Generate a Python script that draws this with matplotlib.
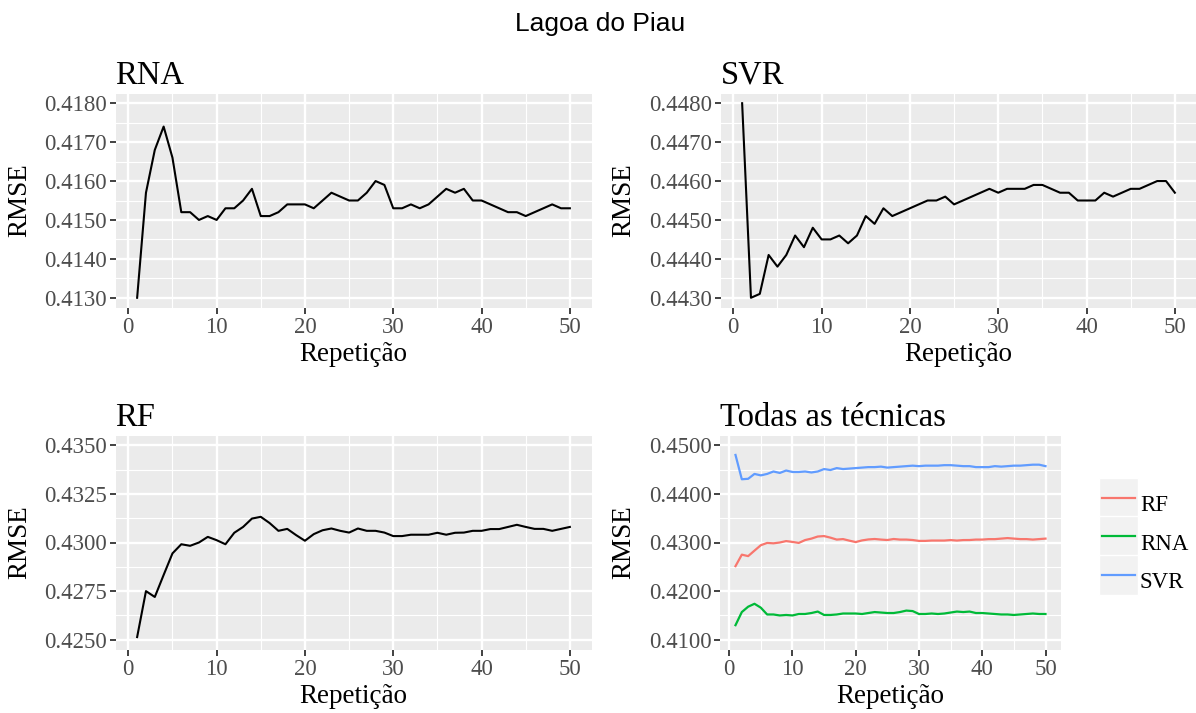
import numpy as np
import matplotlib
matplotlib.use("Agg")
import matplotlib.pyplot as plt
from matplotlib.patches import Rectangle

rep = list(range(1, 51))

rna = [0.4130, 0.4157, 0.4168, 0.4174, 0.4166, 0.4152, 0.4152, 0.4150, 0.4151, 0.4150,
       0.4153, 0.4153, 0.4155, 0.4158, 0.4151, 0.4151, 0.4152, 0.4154, 0.4154, 0.4154,
       0.4153, 0.4155, 0.4157, 0.4156, 0.4155, 0.4155, 0.4157, 0.4160, 0.4159, 0.4153,
       0.4153, 0.4154, 0.4153, 0.4154, 0.4156, 0.4158, 0.4157, 0.4158, 0.4155, 0.4155,
       0.4154, 0.4153, 0.4152, 0.4152, 0.4151, 0.4152, 0.4153, 0.4154, 0.4153, 0.4153]

svr = [0.4480, 0.4430, 0.4431, 0.4441, 0.4438, 0.4441, 0.4446, 0.4443, 0.4448, 0.4445,
       0.4445, 0.4446, 0.4444, 0.4446, 0.4451, 0.4449, 0.4453, 0.4451, 0.4452, 0.4453,
       0.4454, 0.4455, 0.4455, 0.4456, 0.4454, 0.4455, 0.4456, 0.4457, 0.4458, 0.4457,
       0.4458, 0.4458, 0.4458, 0.4459, 0.4459, 0.4458, 0.4457, 0.4457, 0.4455, 0.4455,
       0.4455, 0.4457, 0.4456, 0.4457, 0.4458, 0.4458, 0.4459, 0.4460, 0.4460, 0.4457]

rf = [0.42514, 0.4275, 0.4272, 0.42833, 0.42944, 0.42991, 0.42983, 0.4300, 0.43029, 0.43012,
      0.42991, 0.4305, 0.4308, 0.43123, 0.43132, 0.4310, 0.4306, 0.4307, 0.43038, 0.43009,
      0.43043, 0.43063, 0.43072, 0.4306, 0.43051, 0.43072, 0.4306, 0.4306, 0.43051, 0.43033,
      0.43033, 0.4304, 0.4304, 0.4304, 0.4305, 0.4304, 0.4305, 0.43051, 0.4306, 0.4306,
      0.43069, 0.43069, 0.4308, 0.43091, 0.4308, 0.4307, 0.4307, 0.4306, 0.4307, 0.4308]

W, H = 1196, 713
SERIF = "Liberation Serif"


def style_panel(ax, ylim, ystep, title):
    lo, hi = ylim
    ey = (hi - lo) * 0.05
    ax.set_xlim(1 - 2.45, 50 + 2.45)
    ax.set_ylim(lo - ey, hi + ey)
    ax.set_facecolor("#EBEBEB")
    for s in ax.spines.values():
        s.set_visible(False)
    xt = np.arange(0, 51, 10)
    yt = np.arange(lo, hi + ystep / 2, ystep)
    ax.set_xticks(xt)
    ax.set_yticks(yt)
    ax.set_xticks(xt[:-1] + 5, minor=True)
    ax.set_yticks(yt[:-1] + ystep / 2, minor=True)
    ax.grid(which="major", color="white", lw=1.7)
    ax.grid(which="minor", color="white", lw=0.8)
    ax.set_axisbelow(True)
    ax.tick_params(which="major", length=4, width=1.3, color="#333333",
                   labelcolor="#4D4D4D", labelsize=16.5, pad=2)
    ax.tick_params(axis="x", which="major", pad=3)
    ax.tick_params(which="minor", length=0)
    ax.yaxis.set_major_formatter(matplotlib.ticker.FormatStrFormatter("%.4f"))
    for lab in ax.get_xticklabels() + ax.get_yticklabels():
        lab.set_fontfamily(SERIF)
    ax.set_xlabel("Repetição", fontfamily=SERIF, fontsize=19.5, labelpad=3)
    ax.set_ylabel("RMSE", fontfamily=SERIF, fontsize=19.5, labelpad=9)
    ax.set_title(title, loc="left", fontfamily=SERIF, fontsize=23.5, pad=7)


fig = plt.figure(figsize=(W / 100, H / 100), dpi=100)

ax1 = fig.add_axes([115.5 / W, 1 - 307.5 / H, 476 / W, 214 / H])
ax2 = fig.add_axes([720.5 / W, 1 - 307.5 / H, 476 / W, 214 / H])
ax3 = fig.add_axes([115.5 / W, 1 - 649.5 / H, 476 / W, 214 / H])
ax4 = fig.add_axes([720 / W, 1 - 649.5 / H, 341 / W, 214 / H])

ax1.plot(rep, rna, color="black", lw=1.5)
style_panel(ax1, (0.413, 0.418), 0.001, "RNA")

ax2.plot(rep, svr, color="black", lw=1.5)
style_panel(ax2, (0.443, 0.448), 0.001, "SVR")

ax3.plot(rep, rf, color="black", lw=1.5)
style_panel(ax3, (0.425, 0.435), 0.0025, "RF")

names = ["RF", "RNA", "SVR"]
colors = ["#F8766D", "#00BA38", "#619CFF"]
series = [rf, rna, svr]
handles = []
for name, col, vals in zip(names, colors, series):
    ln, = ax4.plot(rep, vals, color=col, lw=1.6, label=name)
    handles.append(ln)
style_panel(ax4, (0.41, 0.45), 0.01, "Todas as técnicas")

fig.suptitle("Lagoa do Piau", x=600 / W, y=1 - 24 / H, va="center",
             fontfamily="Liberation Sans", fontsize=19)

leg = fig.legend(handles, names, loc="center left",
                 bbox_to_anchor=(1102 / W, 1 - 542.5 / H),
                 frameon=False, borderpad=0, borderaxespad=0,
                 handlelength=1.45, handleheight=2.2, labelspacing=0,
                 handletextpad=0.2,
                 prop={"family": SERIF, "size": 16.5})

fig.canvas.draw()
for h in leg.legend_handles:
    bb = h.get_window_extent(fig.canvas.get_renderer())
    cx = (bb.x0 + bb.x1) / 2
    cy = (bb.y0 + bb.y1) / 2
    fig.patches.append(Rectangle(((cx - 19.5) / W, (cy - 20) / H), 39 / W, 40 / H,
                                 transform=fig.transFigure, facecolor="#F2F2F2",
                                 edgecolor="white", lw=1, zorder=-1))

fig.savefig("out.png", dpi=100)
